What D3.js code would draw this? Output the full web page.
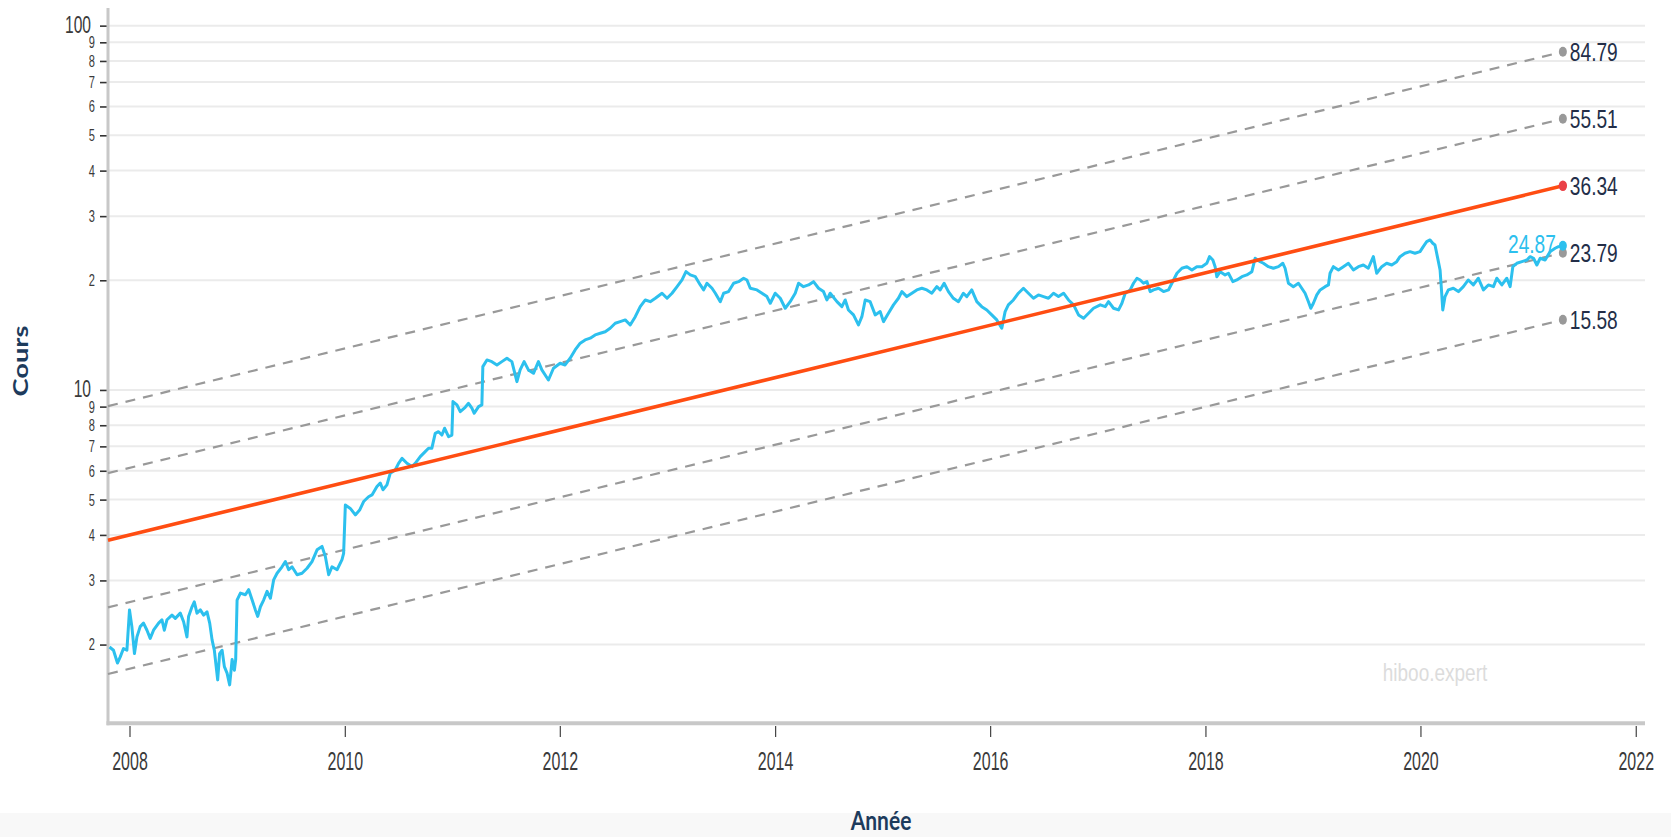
<!DOCTYPE html>
<html>
<head>
<meta charset="utf-8">
<script src="https://cdn.jsdelivr.net/npm/d3@7"></script>
<style>
  body { margin: 0; background: #fff; }
  svg { display: block; }
</style>
</head>
<body>
<svg width="1671" height="837"></svg>
<script>
// price (fractional year / value)
var priceYears = [
  2007.814,2007.851,2007.888,2007.914,2007.944,2007.976,2008.000,2008.022,2008.046,2008.069,
  2008.099,2008.130,2008.162,2008.192,2008.223,2008.270,2008.301,2008.323,2008.348,2008.394,
  2008.425,2008.471,2008.502,2008.533,2008.548,2008.580,2008.601,2008.626,2008.657,2008.688,
  2008.719,2008.744,2008.766,2008.787,2008.818,2008.836,2008.859,2008.880,2008.905,2008.929,
  2008.952,2008.973,2008.985,2008.998,2009.029,2009.075,2009.106,2009.138,2009.168,2009.190,
  2009.215,2009.245,2009.277,2009.308,2009.338,2009.370,2009.416,2009.447,2009.478,2009.509,
  2009.556,2009.602,2009.649,2009.695,2009.742,2009.788,2009.819,2009.850,2009.881,2009.928,
  2009.974,2009.989,2010.005,2010.051,2010.098,2010.138,2010.175,2010.221,2010.253,2010.299,
  2010.330,2010.355,2010.392,2010.423,2010.469,2010.500,2010.532,2010.578,2010.625,2010.655,
  2010.702,2010.748,2010.779,2010.810,2010.841,2010.872,2010.903,2010.928,2010.965,2010.996,
  2011.006,2011.043,2011.074,2011.120,2011.151,2011.182,2011.204,2011.244,2011.275,2011.284,
  2011.322,2011.368,2011.415,2011.461,2011.508,2011.554,2011.601,2011.631,2011.668,2011.708,
  2011.755,2011.801,2011.833,2011.894,2011.941,2012.003,2012.049,2012.096,2012.142,2012.189,
  2012.235,2012.282,2012.328,2012.375,2012.421,2012.467,2012.514,2012.560,2012.607,2012.653,
  2012.700,2012.746,2012.793,2012.839,2012.886,2012.948,2012.995,2013.041,2013.088,2013.134,
  2013.171,2013.211,2013.258,2013.304,2013.335,2013.366,2013.413,2013.444,2013.490,2013.521,
  2013.567,2013.614,2013.660,2013.707,2013.738,2013.769,2013.831,2013.878,2013.924,2013.955,
  2014.001,2014.048,2014.094,2014.140,2014.187,2014.218,2014.264,2014.311,2014.357,2014.404,
  2014.450,2014.482,2014.512,2014.575,2014.621,2014.652,2014.682,2014.729,2014.775,2014.807,
  2014.838,2014.884,2014.931,2014.977,2015.008,2015.054,2015.101,2015.147,2015.179,2015.225,
  2015.272,2015.318,2015.365,2015.411,2015.458,2015.504,2015.535,2015.572,2015.612,2015.658,
  2015.705,2015.751,2015.783,2015.829,2015.876,2015.922,2015.969,2016.015,2016.062,2016.108,
  2016.139,2016.169,2016.216,2016.262,2016.309,2016.355,2016.402,2016.448,2016.495,2016.541,
  2016.588,2016.634,2016.681,2016.727,2016.774,2016.820,2016.867,2016.913,2016.959,2017.022,
  2017.068,2017.099,2017.145,2017.192,2017.223,2017.254,2017.300,2017.331,2017.363,2017.393,
  2017.424,2017.456,2017.486,2017.517,2017.564,2017.610,2017.657,2017.688,2017.735,2017.781,
  2017.828,2017.874,2017.920,2017.967,2018.013,2018.038,2018.069,2018.090,2018.106,2018.137,
  2018.183,2018.214,2018.255,2018.292,2018.339,2018.385,2018.432,2018.462,2018.509,2018.539,
  2018.586,2018.632,2018.679,2018.720,2018.741,2018.772,2018.818,2018.865,2018.896,2018.927,
  2018.958,2018.980,2019.004,2019.036,2019.067,2019.113,2019.144,2019.159,2019.190,2019.237,
  2019.283,2019.330,2019.376,2019.423,2019.469,2019.515,2019.562,2019.593,2019.640,2019.686,
  2019.733,2019.779,2019.810,2019.856,2019.903,2019.949,2019.996,2020.026,2020.058,2020.089,
  2020.114,2020.135,2020.157,2020.182,2020.197,2020.207,2020.228,2020.259,2020.305,2020.352,
  2020.398,2020.444,2020.491,2020.537,2020.584,2020.630,2020.677,2020.708,2020.755,2020.801,
  2020.832,2020.857,2020.894,2020.941,2020.987,2021.018,2021.049,2021.080,2021.111,2021.157,
  2021.204,2021.250,2021.281,2021.322
];
var priceValues = [
  1.97,1.93,1.78,1.85,1.95,1.93,2.49,2.24,1.89,2.10,
  2.24,2.29,2.19,2.08,2.19,2.29,2.34,2.19,2.34,2.41,
  2.36,2.44,2.31,2.10,2.39,2.54,2.62,2.44,2.49,2.41,
  2.46,2.29,2.06,1.93,1.60,1.89,1.93,1.74,1.67,1.55,
  1.82,1.70,1.82,2.65,2.77,2.74,2.83,2.65,2.49,2.39,
  2.54,2.65,2.80,2.68,3.01,3.14,3.27,3.38,3.21,3.27,
  3.11,3.14,3.24,3.38,3.64,3.72,3.49,3.11,3.27,3.21,
  3.42,3.56,4.83,4.73,4.54,4.68,4.94,5.09,5.15,5.43,
  5.55,5.32,5.49,5.91,6.03,6.29,6.49,6.29,6.16,6.29,
  6.56,6.77,6.92,6.92,7.60,7.68,7.52,7.85,7.44,7.52,
  9.29,9.10,8.72,8.96,9.19,8.91,8.63,9.00,9.10,11.59,
  12.09,11.96,11.71,11.96,12.22,11.96,10.54,11.35,11.96,11.35,
  11.11,11.96,11.35,10.65,11.47,11.84,11.71,12.22,12.88,13.44,
  13.72,13.87,14.16,14.31,14.45,14.77,15.24,15.40,15.57,15.08,
  15.89,16.93,17.66,17.47,17.85,18.43,17.85,18.43,19.21,20.04,
  21.12,20.69,20.46,19.42,18.82,19.63,19.02,18.43,17.47,18.43,
  18.62,19.63,19.83,20.26,20.04,19.02,18.82,18.43,18.04,17.30,
  18.43,17.85,16.76,17.47,18.43,19.63,19.21,19.42,19.83,19.02,
  18.62,17.66,18.43,17.47,16.93,17.66,16.58,16.07,15.08,15.89,
  17.66,17.47,16.07,16.41,15.40,16.24,17.12,17.85,18.62,18.04,
  18.43,18.82,19.02,18.82,18.43,19.21,18.82,19.63,18.62,17.85,
  17.47,18.43,18.04,18.82,17.47,16.93,16.58,16.07,15.57,14.77,
  16.41,17.12,17.66,18.43,19.02,18.43,17.85,18.23,18.04,17.85,
  18.43,18.04,18.43,17.66,17.12,16.07,15.73,16.24,16.76,17.12,
  16.93,17.47,16.76,16.58,17.30,18.43,18.82,19.63,20.26,20.04,
  19.63,19.83,18.62,18.82,19.02,18.62,18.82,19.63,20.91,21.58,
  21.80,21.35,21.80,21.80,22.27,23.22,22.74,21.80,20.46,21.12,
  20.69,20.91,19.83,20.04,20.46,20.69,21.12,22.99,22.50,22.27,
  21.80,21.58,21.80,22.27,21.58,19.63,19.21,19.63,19.02,18.43,
  17.47,16.76,17.30,18.23,18.82,19.21,19.42,20.91,21.80,21.35,
  21.80,22.27,21.35,21.80,22.03,21.58,23.22,20.91,21.80,22.27,
  22.03,22.50,23.22,23.73,23.97,23.73,23.97,24.74,25.53,25.81,
  25.27,25.00,23.22,21.35,18.43,16.58,18.04,18.82,19.02,18.62,
  19.21,20.04,19.42,20.26,18.82,19.42,19.21,20.26,19.42,20.26,
  19.21,21.80,22.27,22.50,22.74,23.22,22.99,22.03,22.99,22.74,
  23.97,24.49,24.74,24.87
];

// regression line and its channel (start / end values)
var trendYears = [2007.80, 2021.322];
var trendStart = 3.87;
var trendEnd = 36.34;
var channelStart = [9.03, 5.91, 2.53, 1.66];
var channelEnd = [84.79, 55.51, 23.79, 15.58];

var yTickValues = [2, 3, 4, 5, 6, 7, 8, 9, 10, 20, 30, 40, 50, 60, 70, 80, 90, 100];
var xDomainYears = [2007.80, 2022.086];
var yDomain = [1.216, 111.8];

function yearToDate(y) {
    var yr = Math.floor(y);
    var a = new Date(yr, 0, 1), b = new Date(yr + 1, 0, 1);
    return new Date(+a + (y - yr) * (b - a));
}

var prices = priceYears.map(function(y, i) {
    return { date: yearToDate(y), value: priceValues[i] };
});

var svg = d3.select("svg"),
    plotLeft = 108, plotRight = 1645, plotTop = 8, plotBottom = 723.3;

var x = d3.scaleTime()
    .domain(xDomainYears.map(yearToDate))
    .range([plotLeft, plotRight]);
var y = d3.scaleLog().domain(yDomain).range([plotBottom, plotTop]);

var sans = "'Liberation Sans', Arial, sans-serif";
function isMajor(d) { return d === 10 || d === 100; }

// bottom band
svg.append("rect")
    .attr("x", 0).attr("y", 813).attr("width", 1671).attr("height", 24)
    .attr("fill", "#f8f8f8");

// gridlines
svg.append("g").selectAll("line")
    .data(yTickValues)
    .enter().append("line")
    .attr("x1", plotLeft).attr("x2", plotRight)
    .attr("y1", function(d) { return y(d); })
    .attr("y2", function(d) { return y(d); })
    .attr("stroke", "#ebebeb")
    .attr("stroke-width", 2);

// y axis
var yAxis = svg.append("g")
    .attr("transform", "translate(" + plotLeft + ",0)")
    .call(d3.axisLeft(y)
        .tickValues(yTickValues)
        .tickSize(8)
        .tickFormat(function(d) {
            return isMajor(d) ? String(d) : String(d).charAt(0);
        }));
yAxis.select(".domain").remove();
yAxis.selectAll(".tick line").attr("stroke", "#333").attr("stroke-width", 1.6);
yAxis.selectAll(".tick text")
    .attr("x", 0)
    .attr("fill", "#3a3a3a")
    .style("font-family", sans)
    .style("font-size", function(d) { return isMajor(d) ? "19px" : "13.5px"; })
    .attr("transform", function(d) {
        return isMajor(d) ? "translate(-17,-1) scale(0.82,1.3)" : "translate(-13,0) scale(0.82,1.25)";
    });

// x axis
var xAxis = svg.append("g")
    .attr("transform", "translate(0,726)")
    .call(d3.axisBottom(x)
        .ticks(d3.timeYear.every(2))
        .tickSize(11)
        .tickFormat(d3.timeFormat("%Y")));
xAxis.select(".domain").remove();
xAxis.selectAll(".tick line").attr("stroke", "#444").attr("stroke-width", 1.2);
xAxis.selectAll(".tick text")
    .attr("y", 0)
    .attr("dy", "0.71em")
    .attr("fill", "#3a3a3a")
    .style("font-family", sans)
    .style("font-size", "19.5px")
    .attr("transform", "translate(0,26) scale(0.82,1.31)");

// axis lines
svg.append("line")
    .attr("x1", plotLeft).attr("x2", plotLeft).attr("y1", plotTop).attr("y2", plotBottom + 2)
    .attr("stroke", "#c8c8c8").attr("stroke-width", 3);
svg.append("line")
    .attr("x1", plotLeft - 1.5).attr("x2", plotRight).attr("y1", plotBottom).attr("y2", plotBottom)
    .attr("stroke", "#c8c8c8").attr("stroke-width", 4);

// watermark
svg.append("text")
    .attr("transform", "translate(1435,681) scale(1,1.3)")
    .attr("text-anchor", "middle")
    .attr("fill", "#dcdcdc")
    .style("font-family", sans)
    .style("font-size", "19px")
    .text("hiboo.expert");

// channel lines
var trendDates = trendYears.map(yearToDate);
var line = d3.line()
    .x(function(d) { return x(d.date); })
    .y(function(d) { return y(d.value); });

channelStart.forEach(function(s, i) {
    svg.append("path")
        .datum([{ date: trendDates[0], value: s }, { date: trendDates[1], value: channelEnd[i] }])
        .attr("d", line)
        .attr("fill", "none")
        .attr("stroke", "#999")
        .attr("stroke-width", 2.2)
        .attr("stroke-dasharray", "10,8");
});

// price
svg.append("path")
    .datum(prices)
    .attr("d", line)
    .attr("fill", "none")
    .attr("stroke", "#2cc0ee")
    .attr("stroke-width", 3)
    .attr("stroke-linejoin", "round");

// regression
svg.append("path")
    .datum([{ date: trendDates[0], value: trendStart }, { date: trendDates[1], value: trendEnd }])
    .attr("d", line)
    .attr("fill", "none")
    .attr("stroke", "#ff4d12")
    .attr("stroke-width", 3.6);

// end dots and labels
var endX = x(trendDates[1]);
var lastPrice = prices[prices.length - 1];

channelEnd.forEach(function(v) {
    svg.append("ellipse")
        .attr("cx", endX).attr("cy", y(v))
        .attr("rx", 4).attr("ry", 5)
        .attr("fill", "#999");
});
svg.append("ellipse")
    .attr("cx", x(lastPrice.date)).attr("cy", y(lastPrice.value))
    .attr("rx", 4).attr("ry", 5)
    .attr("fill", "#2cc0ee");
svg.append("ellipse")
    .attr("cx", endX).attr("cy", y(trendEnd))
    .attr("rx", 4.2).attr("ry", 5.2)
    .attr("fill", "#ea4148");

var endLabels = channelEnd.concat([trendEnd]);
endLabels.forEach(function(v) {
    svg.append("text")
        .attr("transform", "translate(" + (endX + 7) + "," + y(v) + ") scale(0.85,1.15)")
        .attr("dy", "0.36em")
        .attr("fill", "#232e48")
        .style("font-family", sans)
        .style("font-size", "22.5px")
        .text(v.toFixed(2));
});

svg.append("text")
    .attr("transform", "translate(" + (x(lastPrice.date) - 7) + "," + (y(lastPrice.value) - 2) + ") scale(0.85,1.18)")
    .attr("text-anchor", "end")
    .attr("dy", "0.36em")
    .attr("fill", "#2cc0ee")
    .style("font-family", sans)
    .style("font-size", "22.5px")
    .text(lastPrice.value.toFixed(2));

// axis titles
svg.append("text")
    .attr("transform", "translate(28,361) rotate(-90) scale(1.3,1)")
    .attr("text-anchor", "middle")
    .attr("fill", "#1d3b5c")
    .style("font-family", "Lato, 'Open Sans', sans-serif")
    .style("font-weight", "bold")
    .style("font-size", "21px")
    .text("Cours");

svg.append("text")
    .attr("transform", "translate(881,830) scale(1,1.25)")
    .attr("text-anchor", "middle")
    .attr("fill", "#1d3b5c")
    .style("font-family", "Lato, 'Open Sans', sans-serif")
    .style("font-weight", "bold")
    .style("font-size", "21px")
    .text("Année");
</script>
</body>
</html>
